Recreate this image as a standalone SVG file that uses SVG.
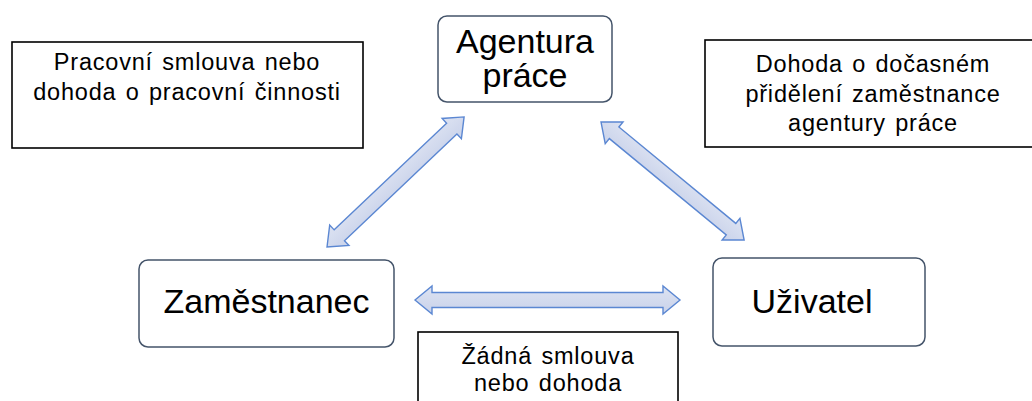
<svg xmlns="http://www.w3.org/2000/svg" width="1032" height="401" viewBox="0 0 1032 401">
  <defs>
    <linearGradient id="ag" x1="0" y1="0" x2="0" y2="1">
      <stop offset="0" stop-color="#DDE3F2"/>
      <stop offset="1" stop-color="#C9D2EA"/>
    </linearGradient>
    <style>
      .node { fill: #FFFFFF; stroke: #44546A; stroke-width: 1.5; }
      .lbl { fill: #FFFFFF; stroke: #000000; stroke-width: 1.6; }
      .big { font-family: "Liberation Sans", Arial, sans-serif; font-size: 34px; fill: #000000; text-anchor: middle; }
      .sm { font-family: "Liberation Sans", Arial, sans-serif; font-size: 23.5px; letter-spacing: 0.8px; word-spacing: 2px; fill: #000000; text-anchor: middle; }
      .arr { fill: url(#ag); stroke: #5B87D2; stroke-width: 1.4; stroke-linejoin: miter; }
    </style>
  </defs>
  <rect width="1032" height="401" fill="#FFFFFF"/>

  <g id="connectors">
    <g transform="translate(415,300)">
      <polygon class="arr" points="0,0 17,-14 17,-7.5 248,-7.5 248,-14 265,0 248,14 248,7.5 17,7.5 17,14"/>
    </g>
    <g transform="translate(327,247) rotate(-43.5)">
      <polygon class="arr" points="0,0 17,-14 17,-7.5 172,-7.5 172,-14 189,0 172,14 172,7.5 17,7.5 17,14"/>
    </g>
    <g transform="translate(601,122) rotate(39.5)">
      <polygon class="arr" points="0,0 17,-14 17,-7.5 168.5,-7.5 168.5,-14 185.5,0 168.5,14 168.5,7.5 17,7.5 17,14"/>
    </g>
  </g>

  <g id="agentura">
    <rect class="node" x="438" y="16" width="174" height="86" rx="9"/>
    <text class="big" x="525" y="53">Agentura</text>
    <text class="big" x="525" y="87">práce</text>
  </g>

  <g id="zamestnanec">
    <rect class="node" x="139" y="260" width="255" height="87" rx="9"/>
    <text class="big" x="266.5" y="313">Zaměstnanec</text>
  </g>

  <g id="uzivatel">
    <rect class="node" x="713" y="258" width="212" height="88" rx="9"/>
    <text class="big" x="812" y="313">Uživatel</text>
  </g>

  <g id="label-left">
    <rect class="lbl" x="12" y="42" width="351" height="106"/>
    <text class="sm" x="187" y="70">Pracovní smlouva nebo</text>
    <text class="sm" x="187" y="100">dohoda o pracovní činnosti</text>
  </g>

  <g id="label-right">
    <rect class="lbl" x="705" y="40" width="340" height="107"/>
    <text class="sm" x="873" y="72">Dohoda o dočasném</text>
    <text class="sm" x="873" y="102">přidělení zaměstnance</text>
    <text class="sm" x="873" y="131">agentury práce</text>
  </g>

  <g id="label-bottom">
    <rect class="lbl" x="418" y="332" width="260" height="80"/>
    <text class="sm" x="548" y="364">Žádná smlouva</text>
    <text class="sm" x="548" y="391">nebo dohoda</text>
  </g>
</svg>
